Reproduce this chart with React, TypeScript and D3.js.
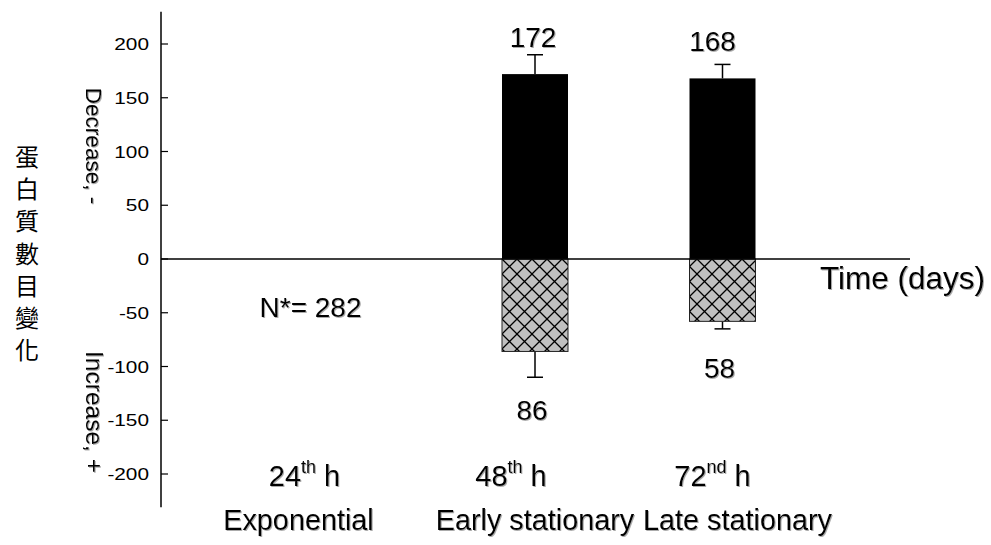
import React from 'react';
import * as d3 from 'd3';

// categories (time points) and phase names
const hours = ['24', '48', '72'];
const hourSuffix = ['th', 'th', 'nd'];
const phases = ['Exponential', 'Early stationary', 'Late stationary'];

// protein count change: decrease (positive side) and increase (negative side)
const decrease = [null, 172, 168];
const decreaseErr = [null, 190, 181];
const increase = [null, -86, -58];
const increaseErr = [null, -110, -65];

const yTicks = [200, 150, 100, 50, 0, -50, -100, -150, -200];
const totalLabel = 'N*= 282';
const yTitle = ['蛋', '白', '質', '數', '目', '變', '化'];

const W = 991;
const H = 545;
const FONT = 'Arial, "Liberation Sans", Helvetica, sans-serif';

export default function App() {
    const x = d3.scalePoint<string>().domain(hours).range([347.5, 722.5]);
    const y = d3.scaleLinear().domain([-200, 200]).range([474, 44]);
    const axisX = 161;
    const barW = 66;
    const capW = 16;

    const hourDx = [-43, -24, -10];
    const phaseDx = [-49, 0, 15];
    const valDx = [0, -2, -10];
    const lowDy = [0, 43, 49];

    return (
        <svg width={W} height={H} style={{ position: 'absolute', left: 0, top: 0, background: '#fff' }}
             fontFamily={FONT}>
            <defs>
                <pattern id="cross" patternUnits="userSpaceOnUse" width={15} height={15} x={502} y={259}>
                    <rect width={15} height={15} fill="#c0c0c0" />
                    <path d="M0,0L15,15M15,0L0,15" stroke="#000" strokeWidth={1.3} />
                </pattern>
                <filter id="shadow" x="-10%" y="-10%" width="130%" height="130%">
                    <feDropShadow dx={1} dy={1} stdDeviation={0.6} floodColor="#888" floodOpacity={0.7} />
                </filter>
            </defs>

            {/* y axis */}
            <line x1={axisX} x2={axisX} y1={y(230)} y2={y(-231)} stroke="#000" strokeWidth={1.5} />
            {yTicks.map(t => (
                <g key={t}>
                    <line x1={axisX} x2={axisX + 7} y1={y(t)} y2={y(t)} stroke="#000" strokeWidth={1.2} />
                    <text transform={`translate(${axisX - 12},${y(t) + 6}) scale(1.3,1)`} textAnchor="end"
                          fontSize={16}>{t}</text>
                </g>
            ))}

            {/* bars */}
            {hours.map((h, i) => decrease[i] == null ? null : (
                <g key={'b' + h}>
                    <line x1={x(h)} x2={x(h)} y1={y(decrease[i] as number)} y2={y(decreaseErr[i] as number)}
                          stroke="#000" strokeWidth={1.5} />
                    <line x1={x(h)! - capW / 2} x2={x(h)! + capW / 2} y1={y(decreaseErr[i] as number)}
                          y2={y(decreaseErr[i] as number)} stroke="#000" strokeWidth={1.5} />
                    <rect x={x(h)! - barW / 2} width={barW} y={y(decrease[i] as number)}
                          height={y(0) - y(decrease[i] as number)} fill="#000" />

                    <line x1={x(h)} x2={x(h)} y1={y(increase[i] as number)} y2={y(increaseErr[i] as number)}
                          stroke="#000" strokeWidth={1.5} />
                    <line x1={x(h)! - capW / 2} x2={x(h)! + capW / 2} y1={y(increaseErr[i] as number)}
                          y2={y(increaseErr[i] as number)} stroke="#000" strokeWidth={1.5} />
                    <rect x={x(h)! - barW / 2} width={barW} y={y(0)}
                          height={y(increase[i] as number) - y(0)} fill="url(#cross)" stroke="#222" strokeWidth={1} />
                </g>
            ))}

            {/* zero line */}
            <line x1={axisX} x2={910} y1={y(0)} y2={y(0)} stroke="#000" strokeWidth={1.5} />

            <g filter="url(#shadow)">
                {/* value labels */}
                {hours.map((h, i) => decrease[i] == null ? null : (
                    <g key={'v' + h} fontSize={28}>
                        <text x={x(h)! + valDx[i]} y={y(decrease[i] as number) - 27} textAnchor="middle">{decrease[i]}</text>
                        <text x={x(h)! - 3} y={y(increaseErr[i] as number) + lowDy[i]} textAnchor="middle">
                            {Math.abs(increase[i] as number)}</text>
                    </g>
                ))}

                <text x={x(hours[0])! - 37} y={y(-50) + 4} textAnchor="middle" fontSize={28}>{totalLabel}</text>
                <text x={820} y={289} fontSize={31.5}>Time (days)</text>

                {/* category labels */}
                {hours.map((h, i) => (
                    <text key={'h' + h} x={x(h)! + hourDx[i]} y={486} textAnchor="middle" fontSize={29}>
                        <tspan>{h}</tspan>
                        <tspan dy={-13} fontSize={18}>{hourSuffix[i]}</tspan>
                        <tspan dy={13}> h</tspan>
                    </text>
                ))}
                {phases.map((p, i) => (
                    <text key={p} x={x(hours[i])! + phaseDx[i]} y={530} textAnchor="middle" fontSize={28.8}>{p}</text>
                ))}

                {/* rotated axis labels */}
                <text transform={`translate(86,146) rotate(90)`} textAnchor="middle" fontSize={22.5}>Decrease, -</text>
                <text transform={`translate(86,412) rotate(90)`} textAnchor="middle" fontSize={24.5}>Increase,  +</text>
            </g>

            {/* vertical chinese title */}
            {yTitle.map((c, i) => (
                <text key={c} x={27} y={166 + i * 32.2} textAnchor="middle" fontSize={24}
                      fontFamily='"Noto Sans CJK TC", sans-serif'>{c}</text>
            ))}
        </svg>
    );
}
